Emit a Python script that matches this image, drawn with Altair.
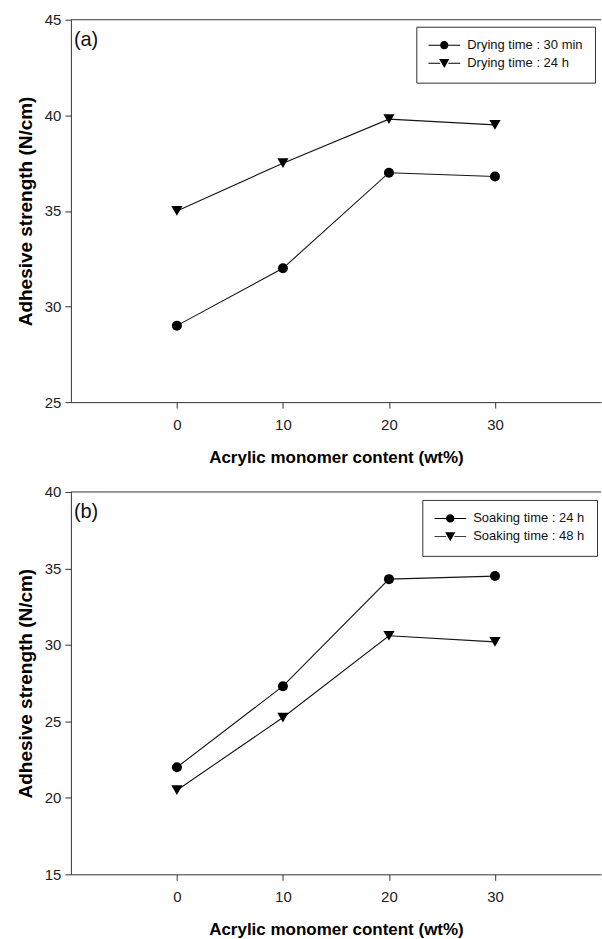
import altair as alt
import pandas as pd

# Acrylic monomer content (wt%)
content = [0, 10, 20, 30]

# (a) adhesive strength vs. drying time
drying_labels = ["Drying time : 30 min", "Drying time : 24 h"]
drying_30min = [29.0, 32.0, 37.0, 36.8]
drying_24h = [35.0, 37.5, 39.8, 39.5]

# (b) adhesive strength vs. soaking time
soaking_labels = ["Soaking time : 24 h", "Soaking time : 48 h"]
soaking_24h = [22.0, 27.3, 34.3, 34.5]
soaking_48h = [20.5, 25.25, 30.6, 30.2]

x_ticks = [0, 10, 20, 30]
ya_ticks = [25, 30, 35, 40, 45]
yb_ticks = [15, 20, 25, 30, 35, 40]

FONT = "Liberation Sans"
PLOT_W = 531
PLOT_H = 383
INK = "#141414"

# legend glyphs: a short line with the marker in the middle (unit square -1..1)
SEG = ("M -1 -0.03 L -0.26 -0.03 L -0.26 0.03 L -1 0.03 Z "
       "M 0.26 -0.03 L 1 -0.03 L 1 0.03 L 0.26 0.03 Z ")
KEY_CIRCLE = SEG + "M 0.26 0 A 0.26 0.26 0 1 1 -0.26 0 A 0.26 0.26 0 1 1 0.26 0 Z"
KEY_TRIANGLE = SEG + "M -0.32 -0.26 L 0.32 -0.26 L 0 0.3 Z"


def frame(series_labels, first, second):
    rows = []
    for lab, vals in zip(series_labels, (first, second)):
        for c, v in zip(content, vals):
            rows.append({"content": c, "strength": v, "series": lab})
    return pd.DataFrame(rows)


def panel(df, labels, y_domain, y_ticks, tag, legend_x, legend_y):
    x = alt.X(
        "content:Q",
        scale=alt.Scale(domain=[-10, 40], nice=False, zero=False),
        axis=alt.Axis(values=x_ticks, title="Acrylic monomer content (wt%)",
                      labelFlush=False),
    )
    y = alt.Y(
        "strength:Q",
        scale=alt.Scale(domain=y_domain, nice=False, zero=False),
        axis=alt.Axis(values=y_ticks, title="Adhesive strength (N/cm)",
                      labelFlush=False, titleFontSize=19),
    )
    base = alt.Chart(df)

    lines = base.mark_line(color=INK, strokeWidth=1.1).encode(
        x=x, y=y, detail="series:N"
    )
    points = base.mark_point(filled=True, opacity=1, color="#000").encode(
        x=x,
        y=y,
        shape=alt.Shape("series:N",
                        scale=alt.Scale(domain=labels, range=["circle", "triangle-down"]),
                        legend=None),
        size=alt.Size("series:N",
                      scale=alt.Scale(domain=labels, range=[100, 125]),
                      legend=None),
    )
    key = base.transform_filter("false").mark_point(
        filled=True, opacity=1, color="#000"
    ).encode(
        x=x,
        y=y,
        shape=alt.Shape(
            "series:N",
            scale=alt.Scale(domain=labels, range=[KEY_CIRCLE, KEY_TRIANGLE]),
            legend=alt.Legend(
                title=None,
                orient="none",
                legendX=legend_x,
                legendY=legend_y,
                strokeColor="#333",
                fillColor="white",
                padding=12,
                symbolSize=1024,
                symbolStrokeWidth=0,
                symbolFillColor="#000",
                labelFont=FONT,
                labelFontSize=13,
                labelColor="#111",
                labelOffset=7,
                labelLimit=300,
                clipHeight=13,
                rowPadding=4,
            ),
        ),
    )
    top_edge = alt.Chart(alt.Data(values=[{"edge": 1}])).mark_rule(
        color="#333", strokeWidth=1
    ).encode(x=alt.value(0), x2=alt.value(PLOT_W), y=alt.value(0))
    label = alt.Chart(alt.Data(values=[{"tag": tag}])).mark_text(
        align="left", baseline="middle", font=FONT, fontSize=20, color="#111"
    ).encode(text="tag:N", x=alt.value(3), y=alt.value(20))

    return (
        alt.layer(lines, points, key, top_edge, label)
        .resolve_scale(shape="independent", size="independent")
        .properties(width=PLOT_W, height=PLOT_H)
    )


panel_a = panel(frame(drying_labels, drying_30min, drying_24h), drying_labels,
                [25, 45], ya_ticks, "(a)", 346, 7)
panel_b = panel(frame(soaking_labels, soaking_24h, soaking_48h), soaking_labels,
                [15, 40], yb_ticks, "(b)", 352, 8)

chart = (
    alt.vconcat(panel_a, panel_b, spacing=90, bounds="flush")
    .resolve_scale(x="independent", y="independent", shape="independent", size="independent")
    .resolve_legend(shape="independent")
    .properties(padding={"top": 12, "left": 16, "right": 0, "bottom": 0},
                background="white")
    .configure_view(stroke=None)
    .configure_axis(
        grid=False,
        domainColor="#333",
        domainWidth=1,
        tickColor="#333",
        tickWidth=1,
        tickSize=6,
        labelFont=FONT,
        labelFontSize=15,
        labelColor="#222",
        titleFont=FONT,
        titleFontSize=17,
        titleFontWeight="bold",
        titleColor="#000",
    )
    .configure_axisX(labelPadding=9, titlePadding=17)
    .configure_axisY(labelPadding=4, titlePadding=9)
)

chart.save("out.html", embed_options={"renderer": "svg", "actions": False})
